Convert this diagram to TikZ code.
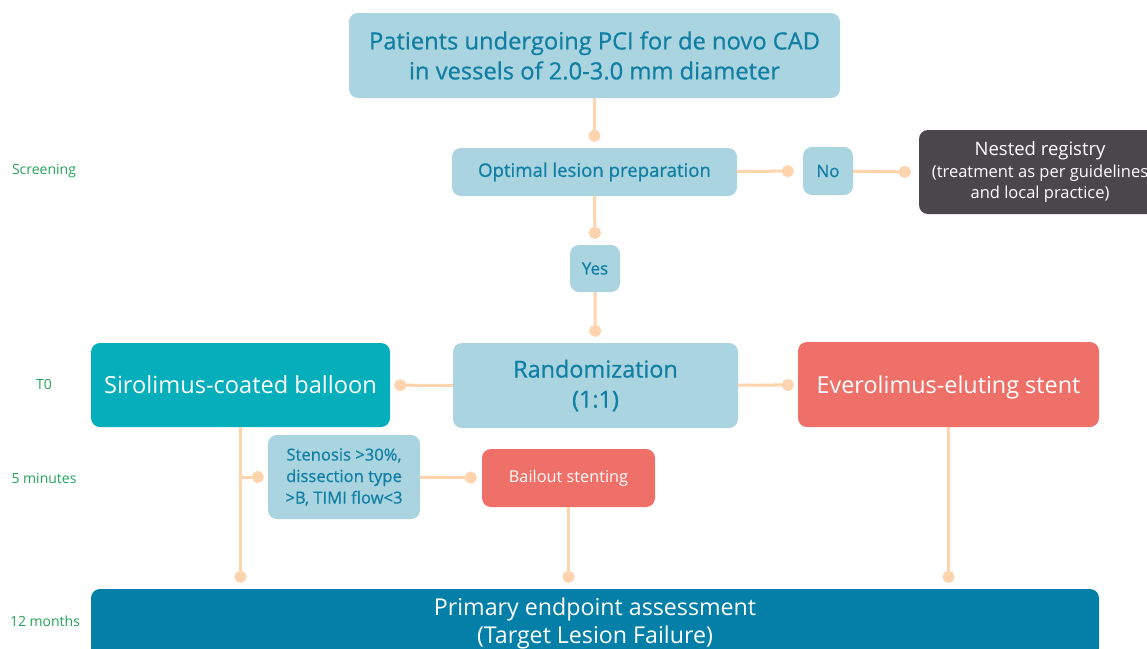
\documentclass[tikz,border=0pt]{standalone}
\usepackage{fontspec}
\setmainfont{Open Sans}
\newfontfamily\semifont{Open Sans}[FakeBold=0.7]
\usepackage{tikz}
\usetikzlibrary{arrows.meta,positioning,calc}
\definecolor{sblue}{HTML}{A9D4E0}
\definecolor{stext}{HTML}{117FA4}
\definecolor{steal}{HTML}{04AEBA}
\definecolor{ssalmon}{HTML}{EF7068}
\definecolor{sgray}{HTML}{4B454C}
\definecolor{sdeep}{HTML}{047FA7}
\definecolor{speach}{HTML}{FDD4AE}
\definecolor{sgreen}{HTML}{22A35A}

\begin{document}
\begin{tikzpicture}[
  x=1pt,y=-1pt,
  lb/.style={rounded corners=9pt,fill=sblue,text=stext,align=center,inner sep=2pt},
  tb/.style={rounded corners=9pt,fill=steal,text=white,align=center,inner sep=2pt},
  rb/.style={rounded corners=9pt,fill=ssalmon,text=white,align=center,inner sep=2pt},
  gb/.style={rounded corners=9pt,fill=sgray,text=white,align=center,inner sep=2pt},
  db/.style={rounded corners=9pt,fill=sdeep,text=white,align=center,inner sep=2pt},
  conn/.style={-{Circle[length=12pt]},line width=3pt,speach,shorten >=5pt},
  phase/.style={text=sgreen,font=\fontsize{14}{16}\selectfont},
  ]
  \useasboundingbox (0,0) rectangle (1147,648);
  % phases on the left
  \node[phase] (screen) at (44,171) {Screening};
  \node[phase] (tzero)  at (44,384) {T0};
  \node[phase] (fivem)  at (44,478) {5 minutes};
  \node[phase] (twelve) at (45,621) {12 months};
  % boxes
  \node[lb,minimum width=491pt,minimum height=85pt,font=\semifont\fontsize{23.7}{30}\selectfont] (pat) at (594.5,55.5)
    {Patients undergoing PCI for de novo CAD\\in vessels of 2.0-3.0 mm diameter};
  \node[lb,minimum width=285pt,minimum height=48pt,font=\semifont\fontsize{18.6}{22}\selectfont] (opt) at (594.5,172) {Optimal lesion preparation};
  \node[lb,minimum width=50pt,minimum height=48pt,font=\semifont\fontsize{17}{20}\selectfont] (no) at (828,171) {No};
  \node[gb,minimum width=242pt,minimum height=84pt,font=\fontsize{16.5}{21.5}\selectfont] (reg) at (1040,172)
    {{\fontsize{18.5}{22}\selectfont Nested registry}\\(treatment as per guidelines\\and local practice)};
  \node[lb,minimum width=50pt,minimum height=47pt,font=\semifont\fontsize{17}{20}\selectfont] (yes) at (595,268.5) {Yes};
  \node[lb,minimum width=285pt,minimum height=85pt,font=\semifont\fontsize{23.4}{30}\selectfont] (rand) at (595.5,385.5) {Randomization\\(1:1)};
  \node[tb,minimum width=299pt,minimum height=84pt,font=\fontsize{23.6}{28}\selectfont] (scb) at (240.5,385) {Sirolimus-coated balloon};
  \node[rb,minimum width=301pt,minimum height=85pt,text depth=0pt,font=\fontsize{23.4}{28}\selectfont] (ees) at (948.5,384.5) {Everolimus-eluting stent};
  \node[lb,minimum width=152pt,minimum height=84pt,font=\semifont\fontsize{16.6}{21.5}\selectfont] (sten) at (344,477)
    {Stenosis >30\%,\\dissection type\\>B, TIMI flow<3};
  \node[rb,minimum width=173pt,minimum height=58pt,font=\fontsize{16.3}{20}\selectfont] (bail) at (568.5,478) {Bailout stenting};
  \node[db,minimum width=1008pt,minimum height=68pt,font=\fontsize{23.2}{28}\selectfont] (prim) at (595,623)
    {Primary endpoint assessment\\(Target Lesion Failure)};
  % connectors
  \draw[conn,shorten >=6pt] (pat) -- (opt);
  \draw[conn,shorten >=9pt] (opt) -- (no);
  \draw[conn,shorten >=8pt] (no) -- (reg.west);
  \draw[conn,shorten >=6pt] (opt) -- (yes);
  \draw[conn,shorten >=6pt] (yes) -- (rand);
  \draw[conn,shorten >=4pt] (rand) -- (scb);
  \draw[conn,shorten >=4pt] (rand) -- (ees);
  \draw[conn,shorten >=6pt] (scb.south) -- (scb.south |- prim.north);
  \draw[conn,shorten >=4pt] (scb.south |- sten.west) -- (sten.west);
  \draw[conn] (sten) -- (bail);
  \draw[conn,shorten >=6pt] (bail.south) -- (bail.south |- prim.north);
  \draw[conn,shorten >=6pt] (ees.south) -- (ees.south |- prim.north);
\end{tikzpicture}
\end{document}
